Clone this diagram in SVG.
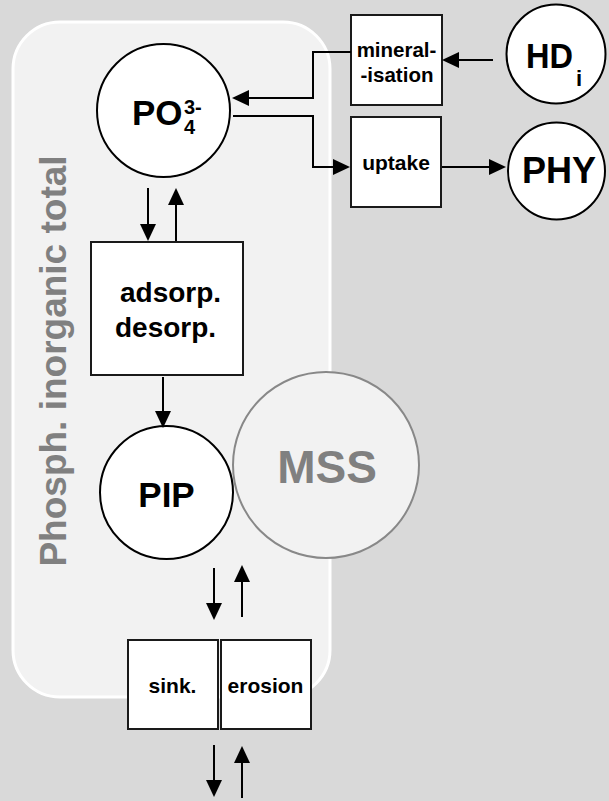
<svg xmlns="http://www.w3.org/2000/svg" width="609" height="801" viewBox="0 0 609 801">
<style>
.node{fill:#fff;stroke:#000;stroke-width:2}
.box{fill:#fff;stroke:#1a1a1a;stroke-width:2}
.lbl{font-family:"Liberation Sans",Arial,sans-serif;font-weight:bold;fill:#000}
.gray{font-family:"Liberation Sans",Arial,sans-serif;font-weight:bold;fill:#808080}
.conn{fill:none;stroke:#000;stroke-width:2;marker-end:url(#arr)}
</style>
<defs>
<marker id="arr" markerUnits="userSpaceOnUse" markerWidth="17" markerHeight="16" refX="14" refY="8" orient="auto">
<path d="M0,0 L17,8 L0,16 z" fill="#000"/>
</marker>
</defs>
<rect width="609" height="801" fill="#d9d9d9"/>
<g id="panel">
<rect x="13" y="22" width="317" height="675" rx="47" ry="47" fill="#f2f2f2" stroke="#ffffff" stroke-width="3"/>
<text class="gray" font-size="37" text-anchor="middle" transform="translate(66,361) rotate(-90)">Phosph. inorganic total</text>
</g>
<g id="MSS">
<circle cx="326" cy="465" r="93" fill="#f2f2f2" stroke="#888" stroke-width="2"/>
<text class="gray" x="327" y="483" font-size="46" text-anchor="middle">MSS</text>
</g>
<g id="PO4">
<circle class="node" cx="163.5" cy="110.5" r="66.5"/>
<text class="lbl" x="132" y="125" font-size="35">PO</text>
<text class="lbl" x="184" y="114" font-size="20">3-</text>
<text class="lbl" x="184" y="134" font-size="20">4</text>
</g>
<g id="mineralisation">
<rect class="box" x="351" y="15" width="91" height="90"/>
<text class="lbl" x="396.5" y="57" font-size="20.5" text-anchor="middle">mineral-</text>
<text class="lbl" x="397" y="82" font-size="20.5" text-anchor="middle">-isation</text>
</g>
<g id="uptake">
<rect class="box" x="351" y="117" width="90" height="90"/>
<text class="lbl" x="396" y="170" font-size="21" text-anchor="middle">uptake</text>
</g>
<g id="HD">
<circle class="node" cx="556" cy="54" r="49.5"/>
<text class="lbl" x="526" y="68" font-size="35" textLength="47" lengthAdjust="spacingAndGlyphs">HD</text>
<text class="lbl" x="576" y="86" font-size="22">i</text>
</g>
<g id="PHY">
<circle class="node" cx="556.5" cy="171" r="48.5"/>
<text class="lbl" x="559" y="183" font-size="36" text-anchor="middle">PHY</text>
</g>
<g id="adsorp">
<rect class="box" x="91" y="242" width="152" height="133"/>
<text class="lbl" x="120" y="302" font-size="28">adsorp.</text>
<text class="lbl" x="115" y="337" font-size="28">desorp.</text>
</g>
<g id="PIP">
<circle class="node" cx="166.5" cy="492.5" r="66.5"/>
<text class="lbl" x="166.5" y="507" font-size="35" text-anchor="middle">PIP</text>
</g>
<g id="sink">
<rect class="box" x="128" y="640" width="90" height="89"/>
<text class="lbl" x="172.5" y="693" font-size="21" text-anchor="middle">sink.</text>
</g>
<g id="erosion">
<rect class="box" x="221" y="640" width="90" height="89"/>
<text class="lbl" x="265.5" y="693" font-size="21" text-anchor="middle">erosion</text>
</g>
<g id="connectors">
<path class="conn" d="M493,60 H445"/>
<path class="conn" d="M351,52 H313 V98 H235"/>
<path class="conn" d="M233,116 H313 V167 H347"/>
<path class="conn" d="M442,167 H503"/>
<path class="conn" d="M148,188 V238"/>
<path class="conn" d="M176,241 V191"/>
<path class="conn" d="M163,377 V425"/>
<path class="conn" d="M214,568 V617"/>
<path class="conn" d="M242,617 V568"/>
<path class="conn" d="M214,745 V794"/>
<path class="conn" d="M242,798 V749"/>
</g>
</svg>
